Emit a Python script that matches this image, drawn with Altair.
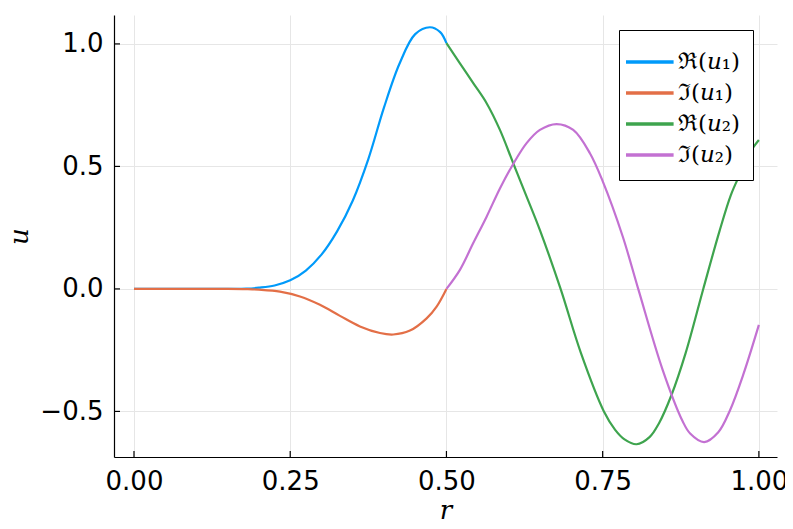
import altair as alt
import pandas as pd

# ---- data ----
r_re1 = [0.0, 0.05, 0.1, 0.15, 0.18, 0.2, 0.225, 0.25, 0.275, 0.3, 0.325, 0.35, 0.375, 0.4,
         0.425, 0.45, 0.4736, 0.49, 0.5]
v_re1 = [0.0, 0.0, 0.0, 0.0, 0.001, 0.005, 0.014, 0.035, 0.075, 0.14, 0.235, 0.36, 0.53, 0.74,
         0.92, 1.04, 1.068, 1.048, 1.003]

r_im1 = [0.0, 0.05, 0.1, 0.15, 0.18, 0.2, 0.2336, 0.2656, 0.2976, 0.3296, 0.3616, 0.3936, 0.4149,
         0.4416, 0.4683, 0.4843, 0.5]
v_im1 = [0.0, 0.0, 0.0, 0.0, -0.001, -0.003, -0.011, -0.031, -0.065, -0.11, -0.153, -0.18, -0.186,
         -0.17, -0.12, -0.072, 0.0]

r_re2 = [0.5, 0.5216, 0.5429, 0.5643, 0.5856, 0.6069, 0.6283, 0.6496, 0.6827, 0.715, 0.752, 0.77,
         0.785, 0.8043, 0.825, 0.84, 0.86, 0.883, 0.911, 0.937, 0.955, 0.97, 0.985, 1.0]
v_re2 = [1.003, 0.921, 0.84, 0.758, 0.649, 0.513, 0.377, 0.24, 0.0, -0.26, -0.5, -0.575,
         -0.614, -0.634, -0.605, -0.549, -0.434, -0.26, 0.0, 0.236, 0.382, 0.47, 0.555, 0.608]

r_im2 = [0.5, 0.5216, 0.5429, 0.5643, 0.5856, 0.6069, 0.6283, 0.6496, 0.6763, 0.7029, 0.7296,
         0.75, 0.782, 0.8069, 0.846, 0.878, 0.89, 0.9125, 0.935, 0.954, 0.975, 1.0]
v_im2 = [0.0, 0.078, 0.187, 0.295, 0.41, 0.51, 0.595, 0.649, 0.673, 0.649, 0.554,
         0.44, 0.215, 0.0, -0.33, -0.54, -0.59, -0.625, -0.585, -0.494, -0.35, -0.147]

names = ["ℜ(𝑢₁)", "ℑ(𝑢₁)", "ℜ(𝑢₂)", "ℑ(𝑢₂)"]
colors = ["#009AFA", "#E36F47", "#3EA44E", "#C371D2"]

x_ticks = [0.0, 0.25, 0.5, 0.75, 1.0]
y_ticks = [-0.5, 0.0, 0.5, 1.0]
x_domain = [-0.032, 1.029]
y_domain = [-0.686, 1.118]

rows = []
for name, rs, vs in zip(names, [r_re1, r_im1, r_re2, r_im2], [v_re1, v_im1, v_re2, v_im2]):
    for i, (r, v) in enumerate(zip(rs, vs)):
        rows.append({"series": name, "r": r, "u": v, "i": i})
df = pd.DataFrame(rows)

W, H = 663, 442

xscale = alt.Scale(domain=x_domain, nice=False, zero=False)
yscale = alt.Scale(domain=y_domain, nice=False, zero=False)

lines = alt.Chart(df).mark_line(strokeWidth=2.2, interpolate="catmull-rom").encode(
    x=alt.X("r:Q", scale=xscale,
            axis=alt.Axis(values=x_ticks, format=".2f", title="r", ticks=False,
                          labelFont="DejaVu Sans", labelFontSize=26, labelColor="black",
                          labelPadding=11, domainColor="black", domainWidth=1.2,
                          gridColor="#e6e6e6", gridWidth=1,
                          titleFont="DejaVu Serif", titleFontStyle="italic",
                          titleFontWeight="normal", titleFontSize=26, titlePadding=3)),
    y=alt.Y("u:Q", scale=yscale,
            axis=alt.Axis(values=y_ticks, format=".1f", title="u", ticks=False,
                          labelFont="DejaVu Sans", labelFontSize=26, labelColor="black",
                          labelPadding=11, domainColor="black", domainWidth=1.2,
                          gridColor="#e6e6e6", gridWidth=1,
                          titleFont="DejaVu Serif", titleFontStyle="italic",
                          titleFontWeight="normal", titleFontSize=26, titlePadding=7)),
    color=alt.Color("series:N", sort=names,
                    scale=alt.Scale(domain=names, range=colors),
                    legend=alt.Legend(title=None, orient="none", legendX=505, legendY=15,
                                      strokeColor="black", fillColor="white",
                                      padding=13, cornerRadius=0,
                                      symbolType="M-1,0H1.8", symbolSize=1156,
                                      symbolStrokeWidth=3.5, symbolOffset=-8,
                                      labelOffset=16, rowPadding=-6.5,
                                      labelFont="DejaVu Serif", labelFontSize=23,
                                      labelColor="black", labelLimit=300)),
    order="i:Q",
)

xt = pd.DataFrame({"t": x_ticks})
yt = pd.DataFrame({"t": y_ticks})
xticks = alt.Chart(xt).mark_rule(color="black", strokeWidth=1.2).encode(
    x=alt.X("t:Q", scale=xscale), y=alt.value(H), y2=alt.value(H - 6))
yticks = alt.Chart(yt).mark_rule(color="black", strokeWidth=1.2).encode(
    y=alt.Y("t:Q", scale=yscale), x=alt.value(0), x2=alt.value(6))

chart = alt.layer(lines, xticks, yticks).properties(
    width=W, height=H,
    autosize=alt.AutoSizeParams(type="none"),
    padding={"left": 106, "top": 7, "right": 8, "bottom": 64},
    background="white",
).configure_view(stroke=None)

chart.save("out.html", embed_options={"renderer": "svg", "actions": False})
